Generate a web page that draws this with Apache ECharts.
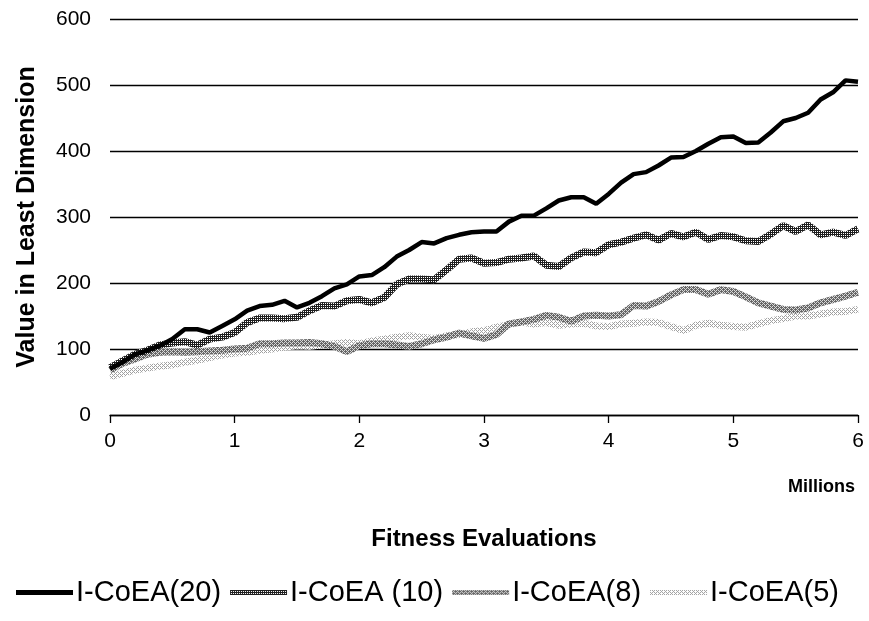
<!DOCTYPE html>
<html>
<head>
<meta charset="utf-8">
<script src="https://cdn.jsdelivr.net/npm/echarts@6/dist/echarts.min.js"></script>
<style>
html,body{margin:0;padding:0;background:#fff;}
#chart{width:869px;height:621px;}
</style>
</head>
<body>
<div id="chart"></div>
<script>
// Fitness evaluations (millions)
var evaluations = [0.0,0.1,0.2,0.3,0.4,0.5,0.6,0.7,0.8,0.9,1.0,1.1,1.2,1.3,1.4,1.5,1.6,1.7,1.8,1.9,2.0,2.1,2.2,2.3,2.4,2.5,2.6,2.7,2.8,2.9,3.0,3.1,3.2,3.3,3.4,3.5,3.6,3.7,3.8,3.9,4.0,4.1,4.2,4.3,4.4,4.5,4.6,4.7,4.8,4.9,5.0,5.1,5.2,5.3,5.4,5.5,5.6,5.7,5.8,5.9,6.0];
var seriesNames = ['I-CoEA(20)', 'I-CoEA (10)', 'I-CoEA(8)', 'I-CoEA(5)'];
var coea20 = [70,80,92,98,105,115,130,130,125,135,145,158,165,167,173,163,170,180,192,198,210,212,224,240,250,262,260,268,273,277,278,278,293,302,302,313,325,330,330,320,335,352,365,368,378,390,391,400,411,421,422,412,413,428,445,450,458,478,489,507,505];
var coea10 = [72,82,92,98,106,109,111,106,115,118,125,140,147,147,146,148,158,166,165,173,175,170,178,198,206,206,205,220,236,238,230,231,236,238,241,227,225,238,247,246,258,262,268,273,265,275,270,277,266,272,270,264,263,274,287,278,288,273,277,272,282];
var coea8 = [68,78,85,92,95,96,95,96,97,98,100,101,108,108,109,109,110,108,104,96,105,108,108,106,104,108,114,118,124,120,116,122,138,141,145,151,148,142,150,151,150,152,166,165,172,182,190,190,183,190,187,179,170,165,160,159,162,170,175,180,186];
var coea5 = [58,63,68,71,74,76,80,83,87,91,94,95,98,100,103,105,104,106,108,110,108,112,115,118,120,118,116,120,122,126,128,133,137,141,138,140,136,138,139,135,134,138,139,141,140,134,128,136,139,136,134,133,138,143,146,150,150,153,156,157,160];

function pairs(vals){ return evaluations.map(function(x,i){ return [x, vals[i]]; }); }

function makePattern(fg, bg, holes){
  var c = document.createElement('canvas');
  c.width = 4; c.height = 4;
  var g = c.getContext('2d');
  g.fillStyle = bg; g.fillRect(0,0,4,4);
  g.fillStyle = fg;
  holes.forEach(function(p){ g.fillRect(p[0],p[1],1,1); });
  return {image: c, repeat: 'repeat'};
}
var pat10 = makePattern('#ffffff', '#1e1e1e', [[1,1],[3,3],[1,3],[3,1]]);
var pat8 = makePattern('#d8d8d8', '#666666', [[0,0],[2,2],[0,2],[2,0],[1,1],[3,3]]);
var pat5 = makePattern('#a0a0a0', '#ffffff', [[0,0],[2,2],[1,3],[3,1],[2,0],[0,2]]);
var lineColors = ['#000000', pat10, pat8, pat5];

var chart = echarts.init(document.getElementById('chart'), null, {renderer:'canvas'});
var font = '"Liberation Sans", Arial, sans-serif';
chart.setOption({
  animation: false,
  backgroundColor: '#ffffff',
  grid: {left: 110, right: 11, top: 19, bottom: 206},
  xAxis: {
    type: 'value', min: 0, max: 6, interval: 1,
    name: 'Fitness Evaluations', nameLocation: 'middle', nameGap: 112,
    nameTextStyle: {fontFamily: font, fontWeight: 'bold', fontSize: 24, color: '#000'},
    axisLine: {show: true, lineStyle: {color: '#000', width: 1.3}},
    axisTick: {show: true, inside: false, length: 8, lineStyle: {color: '#000', width: 1.3}},
    axisLabel: {fontFamily: font, fontSize: 21, color: '#000', margin: 16},
    splitLine: {show: false}
  },
  yAxis: {
    type: 'value', min: 0, max: 600, interval: 100,
    name: 'Value in Least Dimension', nameLocation: 'middle', nameGap: 70,
    nameTextStyle: {fontFamily: font, fontWeight: 'bold', fontSize: 25, color: '#000'},
    axisLine: {show: false}, axisTick: {show: false},
    axisLabel: {fontFamily: font, fontSize: 21, color: '#000', margin: 19},
    splitLine: {show: true, lineStyle: {color: '#000', width: 1.3}}
  },
  legend: {
    top: 578, left: 16, width: 853, padding: 0,
    itemWidth: 57, itemHeight: 5, itemGap: 9,
    icon: 'rect',
    textStyle: {fontFamily: font, fontSize: 29, color: '#000', padding: [0,0,0,-2]},
    data: seriesNames.map(function(n, i){ return {name: n, icon: 'rect', itemStyle: {color: lineColors[i]}}; })
  },
  graphic: [{
    type: 'text', right: 14, top: 478,
    style: {text: 'Millions', font: 'bold 18px "Liberation Sans", Arial, sans-serif', fill: '#000'}
  }],
  series: [
    {name: seriesNames[0], type: 'line', data: pairs(coea20), showSymbol: false, symbol: 'none', z: 6,
     lineStyle: {color: lineColors[0], width: 4.5}, itemStyle: {color: lineColors[0]}},
    {name: seriesNames[1], type: 'line', data: pairs(coea10), showSymbol: false, symbol: 'none', z: 5,
     lineStyle: {color: lineColors[1], width: 7}, itemStyle: {color: lineColors[1]}},
    {name: seriesNames[2], type: 'line', data: pairs(coea8), showSymbol: false, symbol: 'none', z: 4,
     lineStyle: {color: lineColors[2], width: 7}, itemStyle: {color: lineColors[2]}},
    {name: seriesNames[3], type: 'line', data: pairs(coea5), showSymbol: false, symbol: 'none', z: 3,
     lineStyle: {color: lineColors[3], width: 7}, itemStyle: {color: lineColors[3]}}
  ]
});
</script>
</body>
</html>
